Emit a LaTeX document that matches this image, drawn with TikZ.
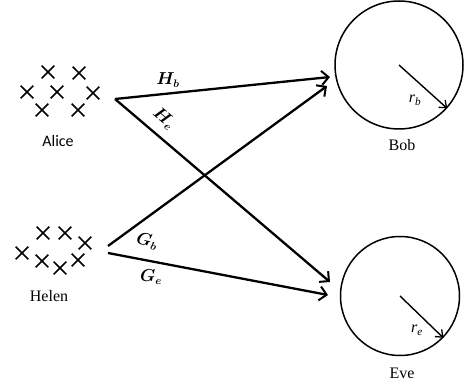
\documentclass[tikz,border=0pt]{standalone}
\usepackage{fontspec}
\usepackage{amsmath,bm}
\setmainfont{Liberation Serif}
\newfontfamily\calib{Carlito}
\usetikzlibrary{arrows.meta,shapes.misc}
\begin{document}
\begin{tikzpicture}[x=1pt,y=-1pt,
  xmark/.style={cross out,draw,line width=1.7pt,minimum size=11pt,inner sep=0pt},
  chan/.style={line width=2.3pt,-{Straight Barb[length=7pt,width=14pt,line width=2pt]}},
  rad/.style={line width=1.4pt,-{Straight Barb[length=6pt,width=10pt,line width=1.3pt]}},
  disc/.style={circle,draw,line width=1.5pt,inner sep=0pt},
  lbl/.style={font=\fontsize{16}{18}\selectfont},
  ml/.style={font=\fontsize{16}{18}\selectfont,inner sep=0pt}]
\useasboundingbox (0,0) rectangle (466,390);
% Alice crosses
\node[xmark] (a1) at (48,72) {};
\node[xmark] (a2) at (79,73) {};
\node[xmark] (a3) at (27,92) {};
\node[xmark] (a4) at (57,92) {};
\node[xmark] (a5) at (93,93) {};
\node[xmark] (a6) at (42,110) {};
\node[xmark] (a7) at (78,110) {};
\node[lbl,font=\calib\fontsize{16}{18}\selectfont] (alice) at (58,141) {Alice};
% Helen crosses
\node[xmark] (h1) at (43,233) {};
\node[xmark] (h2) at (65,233) {};
\node[xmark] (h3) at (85,243) {};
\node[xmark] (h4) at (22,253) {};
\node[xmark] (h5) at (42,261) {};
\node[xmark] (h6) at (60,268) {};
\node[xmark] (h7) at (78,260) {};
\node[lbl] (helen) at (49,296) {Helen};
% Bob and Eve
\node[disc,minimum size=128pt] (bob) at (399,65) {};
\node[lbl] (boblbl) at (402,145) {Bob};
\node[disc,minimum size=119pt] (eve) at (400,296) {};
\node[lbl] (evelbl) at (402,373) {Eve};
\draw[rad] (bob.center) -- (bob.-42);
\draw[rad] (eve.center) -- (eve.-44);
\node[ml] (rb) at (415,100) {\textit{r}\textsubscript{\textit{b}}};
\node[ml] (re) at (417,330) {\textit{r}\textsubscript{\textit{e}}};
% channel endpoints
\coordinate (aout) at (115,99);
\coordinate (hout1) at (108,246);
\coordinate (hout2) at (108,253);
\coordinate (bin1) at (330,77);
\coordinate (bin2) at (327,86);
\coordinate (ein1) at (330,282);
\coordinate (ein2) at (328,295);
\draw[chan] (aout) -- (bin1);
\draw[chan] (aout) -- (ein1);
\draw[chan] (hout1) -- (bin2);
\draw[chan] (hout2) -- (ein2);
% labels
\node[ml] (Hb) at (168,80) {$\boldsymbol{H}_{\boldsymbol{b}}$};
\node[ml,rotate=-40] (He) at (164,119) {$\boldsymbol{H}_{\boldsymbol{e}}$};
\node[ml,rotate=-12] (Gb) at (147,241) {$\boldsymbol{G}_{\boldsymbol{b}}$};
\node[ml] (Ge) at (151,277) {$\boldsymbol{G}_{\boldsymbol{e}}$};
\end{tikzpicture}
\end{document}
